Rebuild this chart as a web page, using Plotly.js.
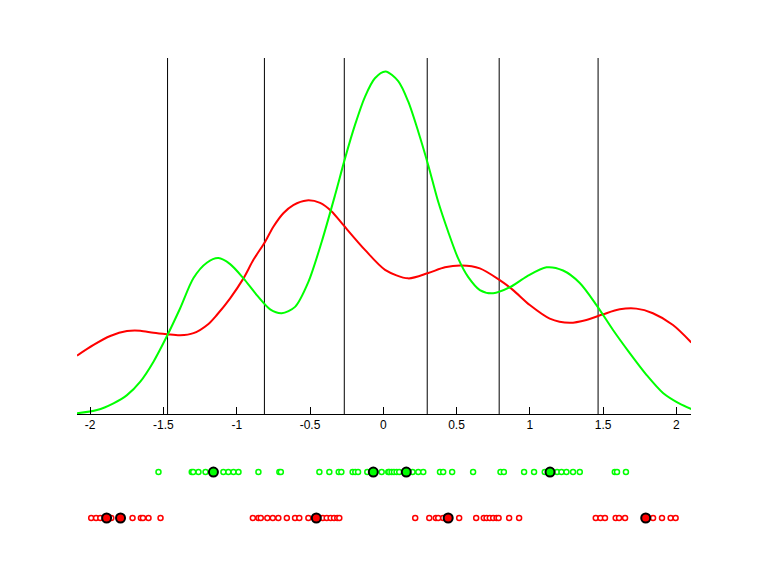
<!DOCTYPE html>
<html>
<head>
<meta charset="utf-8">
<script src="https://cdn.plot.ly/plotly-3.0.1.min.js"></script>
<style>html,body{margin:0;padding:0;background:#fff;}#chart{width:768px;height:576px;}</style>
</head>
<body>
<div id="chart"></div>
<script>
// Density curves
const redX = [-2.090,-1.977,-1.863,-1.749,-1.658,-1.568,-1.476,-1.386,-1.295,-1.193,-1.136,-1.045,-0.954,-0.886,-0.806,-0.750,-0.682,-0.614,-0.522,-0.431,-0.352,-0.273,-0.125,0.012,0.170,0.307,0.421,0.534,0.659,0.795,0.886,1.000,1.136,1.273,1.386,1.500,1.614,1.727,1.840,1.977,2.102];
const redY = [0.164,0.194,0.219,0.233,0.234,0.228,0.224,0.221,0.227,0.253,0.278,0.325,0.381,0.433,0.484,0.526,0.564,0.587,0.600,0.593,0.569,0.531,0.461,0.405,0.381,0.396,0.412,0.417,0.409,0.376,0.348,0.306,0.268,0.256,0.264,0.280,0.294,0.296,0.283,0.250,0.201];
const greenX = [-2.090,-1.954,-1.841,-1.749,-1.658,-1.568,-1.476,-1.386,-1.295,-1.204,-1.125,-1.045,-0.954,-0.863,-0.772,-0.693,-0.602,-0.511,-0.420,-0.329,-0.261,-0.193,-0.125,-0.057,0.016,0.102,0.170,0.239,0.307,0.375,0.443,0.511,0.579,0.659,0.750,0.864,0.978,1.114,1.227,1.341,1.455,1.568,1.682,1.796,1.909,2.022,2.102];
const greenY = [0.002,0.011,0.030,0.053,0.091,0.147,0.219,0.297,0.382,0.425,0.438,0.421,0.381,0.334,0.294,0.283,0.301,0.371,0.484,0.615,0.718,0.812,0.891,0.943,0.962,0.935,0.878,0.793,0.699,0.596,0.512,0.437,0.385,0.348,0.339,0.356,0.386,0.412,0.403,0.368,0.306,0.236,0.171,0.110,0.059,0.029,0.014];

// Vertical boundary lines
const boundaries = [-1.472,-0.811,-0.266,0.300,0.791,1.466];

// Sample points
const greenPts = [-1.534,-1.307,-1.297,-1.261,-1.213,-1.091,-1.057,-1.022,-0.988,-0.852,-0.709,-0.699,-0.436,-0.368,-0.304,-0.286,-0.209,-0.191,-0.172,-0.109,-0.011,0.034,0.041,0.057,0.073,0.091,0.109,0.200,0.239,0.273,0.387,0.409,0.470,0.613,0.800,0.823,0.961,1.029,1.102,1.186,1.216,1.250,1.295,1.341,1.580,1.595,1.656];
const redPts = [-1.993,-1.960,-1.931,-1.856,-1.711,-1.654,-1.640,-1.602,-1.520,-0.890,-0.852,-0.836,-0.791,-0.754,-0.716,-0.658,-0.602,-0.573,-0.511,-0.413,-0.386,-0.359,-0.336,-0.314,-0.300,0.218,0.314,0.359,0.375,0.409,0.518,0.634,0.686,0.705,0.727,0.750,0.773,0.787,0.859,0.927,1.450,1.482,1.513,1.586,1.609,1.650,1.841,1.902,1.961,1.995];
const greenCenters = [-1.159,-0.068,0.157,1.138];
const redCenters = [-1.888,-1.793,-0.457,0.443,1.791];

const tickVals = [-2,-1.5,-1,-0.5,0,0.5,1,1.5,2];
const tickText = ['-2','-1.5','-1','-0.5','0','0.5','1','1.5','2'];

const GREEN_ROW = 2, RED_ROW = 1;

const vx = [], vy = [];
boundaries.forEach(b => { vx.push(b, b, null); vy.push(0, 1, null); });

const traces = [
  {x: vx, y: vy, mode: 'lines', line: {color: '#000', width: 1}, hoverinfo: 'skip'},
  {x: redX, y: redY, mode: 'lines', line: {color: '#ff0000', width: 2, shape: 'spline', smoothing: 0.8}},
  {x: greenX, y: greenY, mode: 'lines', line: {color: '#00ff00', width: 2, shape: 'spline', smoothing: 0.8}},
  {x: greenPts, y: greenPts.map(() => GREEN_ROW), yaxis: 'y2', mode: 'markers',
   marker: {symbol: 'circle', size: 5, color: '#ffffff', line: {color: '#00ff00', width: 1.5}}},
  {x: redPts, y: redPts.map(() => RED_ROW), yaxis: 'y2', mode: 'markers',
   marker: {symbol: 'circle', size: 5, color: '#ffffff', line: {color: '#ff0000', width: 1.5}}},
  {x: greenCenters, y: greenCenters.map(() => GREEN_ROW), yaxis: 'y2', mode: 'markers',
   marker: {symbol: 'circle', size: 9, color: '#00ff00', line: {color: '#000', width: 2}}},
  {x: redCenters, y: redCenters.map(() => RED_ROW), yaxis: 'y2', mode: 'markers',
   marker: {symbol: 'circle', size: 9, color: '#ff0000', line: {color: '#000', width: 2}}}
];

const layout = {
  width: 768, height: 576,
  margin: {l: 77, r: 77, t: 0, b: 0, pad: 0},
  paper_bgcolor: '#fff', plot_bgcolor: 'rgba(0,0,0,0)',
  showlegend: false,
  font: {family: 'Liberation Sans, Arial, sans-serif', size: 12, color: '#000'},
  xaxis: {
    range: [-2.09, 2.1], domain: [0, 1], anchor: 'y',
    showgrid: false, zeroline: false,
    showline: true, linecolor: '#000', linewidth: 1,
    ticks: 'inside', ticklen: 7, tickcolor: '#000', tickwidth: 1,
    tickvals: tickVals, ticktext: tickText,
    tickfont: {family: 'Liberation Sans, Arial, sans-serif', size: 12, color: '#000'}
  },
  yaxis: {
    range: [0, 1], domain: [0.28125, 0.89931],
    visible: false, showgrid: false, zeroline: false, fixedrange: true
  },
  yaxis2: {
    range: [0.087, 2.696], domain: [0.0278, 0.2361], anchor: 'x',
    visible: false, showgrid: false, zeroline: false
  }
};

Plotly.newPlot('chart', traces, layout, {staticPlot: true, displayModeBar: false});
</script>
</body>
</html>
